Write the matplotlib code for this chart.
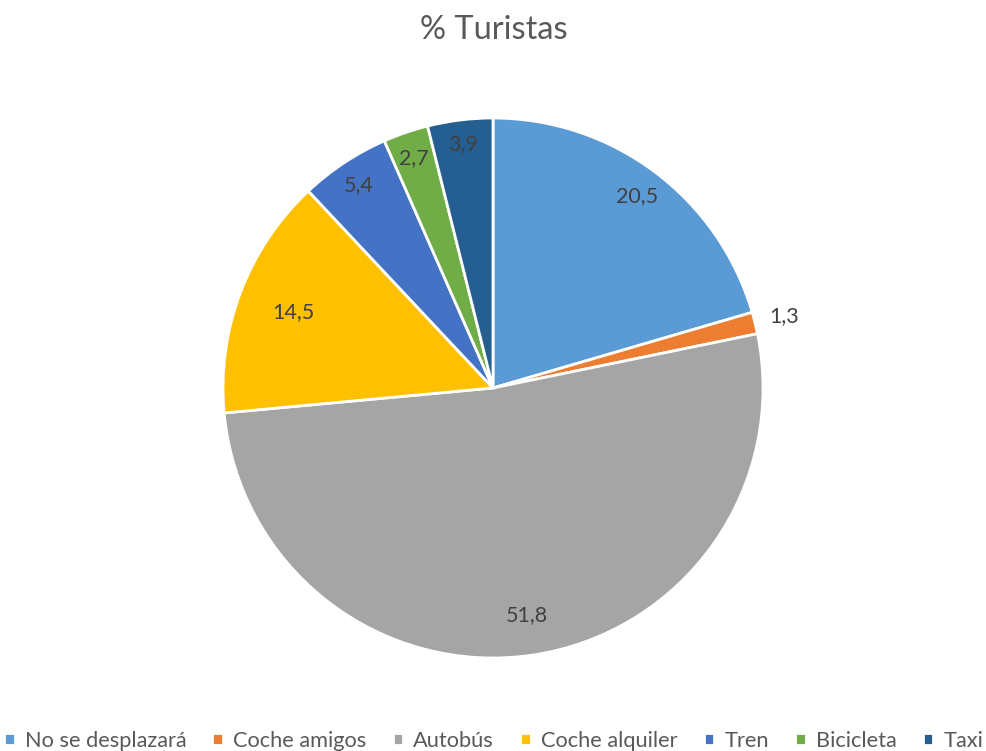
import numpy as np
import matplotlib.pyplot as plt

categories = ['No se desplazará', 'Coche amigos', 'Autobús', 'Coche alquiler', 'Tren', 'Bicicleta', 'Taxi']
values = [20.5, 1.3, 51.8, 14.5, 5.4, 2.7, 3.9]
labels = ['20,5', '1,3', '51,8', '14,5', '5,4', '2,7', '3,9']
colors = ['#5B9BD5', '#ED7D31', '#A5A5A5', '#FFC000', '#4472C4', '#70AD47', '#255E91']
# label distance as fraction of radius (Excel best-fit look)
label_r = [0.89, 1.11, 0.85, 0.79, 0.9, 0.9, 0.91]

plt.rcParams['font.family'] = ['Lato', 'DejaVu Sans']

fig = plt.figure(figsize=(9.87, 7.51), dpi=100)
fig.patch.set_facecolor('white')
# pie centre (493, 388), radius 270 px
r_px = 270
ax = fig.add_axes([(493 - r_px) / 987, 1 - (388 + r_px) / 751, 2 * r_px / 987, 2 * r_px / 751])
wedges, _ = ax.pie(values, colors=colors, startangle=90, counterclock=False,
                   wedgeprops=dict(edgecolor='white', linewidth=2))
ax.set_xlim(-1, 1)
ax.set_ylim(-1, 1)
ax.set_aspect('equal')

total = sum(values)
cum = 0
for v, lab, f in zip(values, labels, label_r):
    mid = 90 - (cum + v / 2) / total * 360
    cum += v
    a = np.deg2rad(mid)
    ax.text(f * np.cos(a), f * np.sin(a), lab, ha='center', va='center',
            fontsize=15.5, color='#404040')

fig.text(0.5, 1 - 30 / 751, '% Turistas', ha='center', va='center', fontsize=23.5, color='#595959')

fig.legend(wedges, categories, loc='center', bbox_to_anchor=(0.5, 1 - 741 / 751), ncol=7,
           frameon=False, fontsize=15.7, labelcolor='#595959', handlelength=0.5, handleheight=0.5,
           handletextpad=0.45, columnspacing=1.2, borderaxespad=0, borderpad=0)

fig.savefig('out.png', dpi=100)
